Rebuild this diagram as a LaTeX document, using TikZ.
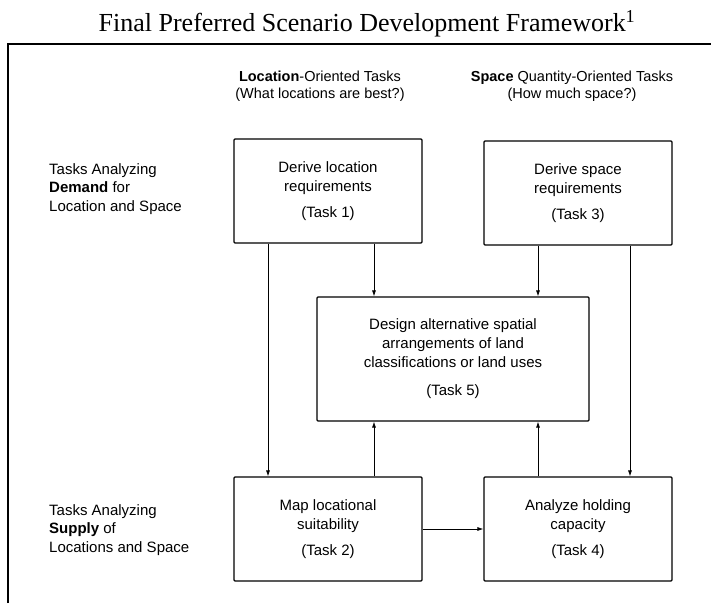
\documentclass[tikz,border=0pt]{standalone}
\usepackage{fontspec}
\setmainfont{Liberation Serif}
\setsansfont{Liberation Sans}
\usetikzlibrary{arrows.meta,positioning}

\tikzset{
  task/.style={draw, line width=1.1pt, rounded corners=1pt, minimum width=188pt,
    minimum height=104pt, align=center, font=\sffamily\fontsize{15}{19}\selectfont},
  lbl/.style={align=left, font=\sffamily\fontsize{15}{18.5}\selectfont, inner sep=0pt},
  hdr/.style={align=center, font=\sffamily\fontsize{14.5}{17}\selectfont, inner sep=0pt},
  arr/.style={-{Latex[length=6pt,width=4pt]}, line width=0.8pt}
}

\begin{document}
\begin{tikzpicture}[x=1pt,y=-1pt]
  \useasboundingbox (0,0) rectangle (711,603);

  % title and frame
  \node[font=\fontsize{26}{28}\selectfont, inner sep=0pt] (title) at (367,24)
    {Final Preferred Scenario Development Framework\textsuperscript{1}};
  \draw[line width=1.3pt] (8,603) -- (8,44) -- (711,44);

  % column headers
  \node[hdr] (hloc) at (320,86) {\textbf{Location}-Oriented Tasks\\(What locations are best?)};
  \node[hdr] (hspc) at (572,86) {\textbf{Space} Quantity-Oriented Tasks\\(How much space?)};

  % row labels
  \node[lbl, anchor=west] (rdem) at (49,189) {Tasks Analyzing\\\textbf{Demand} for\\Location and Space};
  \node[lbl, anchor=west] (rsup) at (49,530) {Tasks Analyzing\\\textbf{Supply} of\\Locations and Space};

  % tasks
  \node[task] (t1) at (328,191) {Derive location\\requirements\\[7pt](Task 1)};
  \node[task] (t3) at (578,193) {Derive space\\requirements\\[7pt](Task 3)};
  \node[task, minimum width=272pt, minimum height=124pt] (t5) at (453,359)
    {Design alternative spatial\\arrangements of land\\classifications or land uses\\[9pt](Task 5)};
  \node[task] (t2) at (328,529) {Map locational\\suitability\\[7pt](Task 2)};
  \node[task] (t4) at (578,529) {Analyze holding\\capacity\\[7pt](Task 4)};

  % connectors
  \draw[arr] ([xshift=-60pt]t1.south) -- ([xshift=-60pt]t2.north);
  \draw[arr] ([xshift=46pt]t1.south) -- ([xshift=-79pt]t5.north);
  \draw[arr] ([xshift=-40pt]t3.south) -- ([xshift=85pt]t5.north);
  \draw[arr] ([xshift=52pt]t3.south) -- ([xshift=52pt]t4.north);
  \draw[arr] ([xshift=46pt]t2.north) -- ([xshift=-79pt]t5.south);
  \draw[arr] ([xshift=-40pt]t4.north) -- ([xshift=85pt]t5.south);
  \draw[arr] (t2.east) -- (t4.west);
\end{tikzpicture}
\end{document}
